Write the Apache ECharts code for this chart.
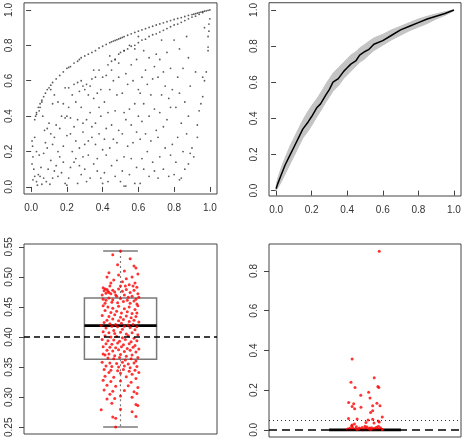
<!DOCTYPE html>
<html>
<head>
<meta charset="utf-8">
<script src="https://cdn.jsdelivr.net/npm/echarts@6.0.0/dist/echarts.min.js"></script>
<style>
  html, body { margin: 0; padding: 0; background: #fff; }
  #chart { width: 466px; height: 440px; }
</style>
</head>
<body>
<div id="chart"></div>
<script>
// ---- tick labels ----
const topTicks = [0, 0.2, 0.4, 0.6, 0.8, 1.0];
const leftBoxTicks = [0.25, 0.30, 0.35, 0.40, 0.45, 0.50, 0.55];
const rightBoxTicks = [0, 0.2, 0.4, 0.6, 0.8];

// ---- panel 1: scatter (upper envelope, second streak, cloud) ----
const envelopePts = [
  [0.02,0.38],[0.025,0.40],[0.03,0.42],[0.04,0.45],[0.05,0.47],[0.06,0.49],[0.07,0.51],[0.08,0.53],
  [0.09,0.55],[0.1,0.56],[0.11,0.575],[0.12,0.59],[0.14,0.61],[0.16,0.63],[0.18,0.65],[0.2,0.67],
  [0.21,0.675],[0.22,0.68],[0.24,0.70],[0.26,0.71],[0.27,0.72],[0.28,0.73],[0.3,0.74],[0.32,0.75],
  [0.34,0.76],[0.36,0.77],[0.38,0.785],[0.4,0.795],[0.42,0.805],[0.44,0.815],[0.45,0.82],[0.46,0.824],
  [0.47,0.828],[0.48,0.832],[0.49,0.836],[0.5,0.84],[0.51,0.845],[0.52,0.849],[0.54,0.857],[0.56,0.865],
  [0.58,0.873],[0.6,0.88],[0.62,0.887],[0.64,0.894],[0.66,0.901],[0.68,0.908],[0.7,0.915],[0.72,0.921],
  [0.74,0.927],[0.76,0.934],[0.78,0.94],[0.8,0.946],[0.82,0.952],[0.84,0.957],[0.86,0.963],[0.88,0.969],
  [0.9,0.974],[0.91,0.976],[0.92,0.979],[0.93,0.982],[0.94,0.985],[0.95,0.988],[0.96,0.99],[0.97,0.993],
  [0.98,0.995],[0.99,0.998],[1.0,1.0]
];
const streakPts = [
  [0.45,0.71],[0.47,0.72],[0.49,0.75],[0.52,0.77],[0.54,0.78],[0.56,0.795],[0.58,0.80],[0.6,0.815],
  [0.62,0.83],[0.64,0.835],[0.66,0.85],[0.68,0.86],[0.7,0.865],[0.72,0.875],[0.74,0.885],[0.76,0.895],
  [0.78,0.905],[0.8,0.915],[0.82,0.92],[0.84,0.93],[0.86,0.94],[0.88,0.95],[0.9,0.96],[0.92,0.965],
  [0.94,0.975],[0.96,0.985]
];
const cloudPts = [
  [0.005,0.13],[0.01,0.17],[0.008,0.23],[0.005,0.26],[0.015,0.10],[0.02,0.06],[0.03,0.03],[0.04,0.07],
  [0.05,0.06],[0.06,0.015],[0.085,0.03],[0.07,0.05],[0.03,0.20],[0.045,0.18],[0.03,0.41],[0.045,0.43],
  [0.05,0.45],[0.06,0.48],[0.075,0.32],[0.09,0.33],[0.1,0.36],[0.08,0.25],[0.09,0.22],[0.07,0.19],
  [0.02,0.28],[0.055,0.11],[0.095,0.10],[0.065,0.40],[0.01,0.04],[0.035,0.01],
  [0.105,0.015],[0.12,0.05],[0.13,0.09],[0.11,0.15],[0.14,0.12],[0.15,0.20],[0.12,0.24],[0.13,0.28],
  [0.16,0.33],[0.11,0.30],[0.14,0.35],[0.17,0.40],[0.12,0.47],[0.15,0.48],[0.18,0.47],[0.19,0.39],
  [0.17,0.08],[0.19,0.02],[0.2,0.01],[0.16,0.17],[0.18,0.23],[0.2,0.29],[0.13,0.52],[0.11,0.55],
  [0.19,0.56],[0.15,0.06],[0.18,0.14],[0.2,0.40],
  [0.21,0.05],[0.22,0.11],[0.24,0.14],[0.26,0.02],[0.28,0.07],[0.23,0.20],[0.25,0.26],[0.27,0.22],
  [0.22,0.30],[0.29,0.31],[0.24,0.34],[0.26,0.38],[0.28,0.45],[0.22,0.39],[0.25,0.48],[0.23,0.52],
  [0.27,0.54],[0.29,0.57],[0.26,0.59],[0.28,0.60],[0.21,0.56],[0.3,0.55],[0.24,0.58],[0.27,0.12],
  [0.29,0.17],[0.3,0.24],[0.25,0.16],[0.29,0.36],[0.3,0.10],[0.21,0.45],
  [0.31,0.03],[0.33,0.05],[0.35,0.13],[0.32,0.18],[0.37,0.16],[0.39,0.05],[0.36,0.24],[0.34,0.28],
  [0.38,0.30],[0.31,0.38],[0.33,0.42],[0.36,0.36],[0.39,0.40],[0.35,0.50],[0.32,0.52],[0.37,0.53],
  [0.39,0.55],[0.31,0.58],[0.34,0.61],[0.36,0.62],[0.38,0.66],[0.35,0.66],[0.4,0.62],[0.33,0.57],
  [0.37,0.09],[0.4,0.02],[0.32,0.26],[0.4,0.21],[0.38,0.45],[0.34,0.34],
  [0.41,0.08],[0.43,0.03],[0.45,0.12],[0.47,0.06],[0.42,0.18],[0.44,0.22],[0.48,0.15],[0.46,0.27],
  [0.49,0.32],[0.42,0.33],[0.45,0.35],[0.47,0.43],[0.43,0.42],[0.41,0.48],[0.44,0.55],[0.48,0.52],
  [0.46,0.60],[0.42,0.63],[0.49,0.62],[0.45,0.66],[0.43,0.69],[0.47,0.72],[0.49,0.70],[0.5,0.76],
  [0.44,0.74],[0.5,0.03],[0.48,0.25],[0.41,0.27],
  [0.52,0.005],[0.53,0.005],[0.51,0.09],[0.55,0.07],[0.58,0.02],[0.52,0.17],[0.56,0.16],[0.59,0.11],
  [0.54,0.23],[0.57,0.25],[0.51,0.30],[0.53,0.38],[0.56,0.35],[0.59,0.31],[0.52,0.42],[0.55,0.44],
  [0.58,0.47],[0.51,0.53],[0.54,0.58],[0.57,0.60],[0.6,0.55],[0.53,0.64],[0.56,0.69],[0.59,0.72],
  [0.52,0.77],[0.55,0.80],[0.58,0.78],[0.6,0.40],
  [0.61,0.02],[0.63,0.10],[0.66,0.06],[0.69,0.09],[0.62,0.16],[0.65,0.20],[0.68,0.14],[0.61,0.27],
  [0.64,0.30],[0.67,0.26],[0.7,0.32],[0.62,0.37],[0.66,0.40],[0.69,0.44],[0.63,0.47],[0.67,0.52],
  [0.61,0.53],[0.65,0.58],[0.68,0.61],[0.62,0.62],[0.64,0.66],[0.69,0.68],[0.66,0.73],[0.63,0.77],
  [0.7,0.75],[0.6,0.85],
  [0.71,0.05],[0.74,0.10],[0.77,0.06],[0.72,0.17],[0.75,0.22],[0.78,0.18],[0.71,0.28],[0.74,0.34],
  [0.79,0.24],[0.76,0.38],[0.72,0.42],[0.78,0.45],[0.73,0.52],[0.77,0.50],[0.75,0.57],[0.79,0.55],
  [0.71,0.62],[0.74,0.65],[0.78,0.67],[0.72,0.72],[0.76,0.76],[0.8,0.83],[0.73,0.83],[0.8,0.07],
  [0.83,0.04],[0.84,0.05],[0.86,0.10],[0.88,0.13],[0.81,0.14],[0.85,0.20],[0.89,0.19],[0.82,0.28],
  [0.87,0.30],[0.84,0.36],[0.88,0.40],[0.81,0.45],[0.86,0.48],[0.83,0.53],[0.89,0.57],[0.82,0.62],
  [0.85,0.67],[0.88,0.73],[0.83,0.78],[0.87,0.85],
  [0.9,0.22],[0.91,0.17],[0.93,0.28],[0.93,0.35],[0.94,0.43],[0.96,0.51],[0.95,0.47],[0.97,0.60],
  [0.96,0.62],[0.98,0.65],[0.99,0.77],[0.99,0.79],[0.99,0.85],[0.995,0.88],[0.995,0.92],[1.0,0.95],
  [0.92,0.65],[0.97,0.90]
];

// ---- panel 2: mean curve with grey envelope ----
const curveX = [0,0.01,0.03,0.05,0.08,0.1,0.13,0.15,0.18,0.2,0.23,0.25,0.28,0.3,0.32,0.33,0.35,0.38,
  0.4,0.42,0.45,0.47,0.5,0.52,0.55,0.6,0.65,0.7,0.75,0.8,0.85,0.9,0.95,1.0];
const curveMean = [0.01,0.04,0.09,0.14,0.20,0.24,0.30,0.34,0.38,0.41,0.46,0.48,0.53,0.56,0.60,0.605,0.62,0.66,
  0.68,0.70,0.72,0.75,0.77,0.78,0.81,0.83,0.86,0.89,0.91,0.93,0.95,0.965,0.98,1.0];
const curveLow = [0.0,0.015,0.05,0.09,0.15,0.19,0.25,0.29,0.33,0.36,0.41,0.44,0.49,0.52,0.55,0.56,0.58,0.62,
  0.64,0.66,0.69,0.71,0.73,0.75,0.775,0.805,0.835,0.86,0.885,0.905,0.925,0.95,0.97,0.995];
const curveHigh = [0.025,0.07,0.13,0.18,0.25,0.29,0.35,0.39,0.44,0.47,0.51,0.54,0.59,0.62,0.65,0.66,0.68,0.71,
  0.73,0.75,0.77,0.79,0.81,0.825,0.845,0.865,0.89,0.91,0.93,0.95,0.965,0.978,0.99,1.0];

// ---- panel 3: boxplot with jittered points ----
const leftStats = [1, 0.2505, 0.363, 0.419, 0.465, 0.543]; // x, min, q1, median, q3, max
const leftRef = 0.403;
const leftPts = [
  [1.0,0.543],[0.96,0.537],[1.05,0.53],[0.985,0.52],[1.07,0.518],[1.08,0.515],[0.94,0.507],[1.02,0.51],
  [0.99,0.503],[1.06,0.50],[0.93,0.50],[1.09,0.505],[1.03,0.497],[0.965,0.495],[1.01,0.492],[1.075,0.49],
  [0.95,0.49],[1.045,0.487],[1.0,0.485],[1.085,0.483],
  [0.91,0.482],[0.92,0.48],[0.93,0.479],[0.915,0.477],[0.935,0.476],[0.94,0.474],[0.925,0.473],[0.905,0.47],
  [0.95,0.472],[0.96,0.478],[0.97,0.475],[0.99,0.48],[1.01,0.476],[1.03,0.479],[1.05,0.474],[1.07,0.478],
  [1.09,0.472],[1.02,0.47],[0.98,0.468],[1.04,0.466],[1.06,0.468],[1.08,0.463],[0.94,0.465],[0.91,0.463],
  [0.925,0.461],[0.96,0.462],[1.0,0.464],[1.035,0.461],[1.07,0.46],[1.095,0.466],[0.955,0.458],[0.985,0.457],
  [1.015,0.459],[1.05,0.456],[0.92,0.456],[1.085,0.455],[0.975,0.47],[1.025,0.485],[0.945,0.485],[1.065,0.485],
  [0.91,0.452],[0.935,0.45],[0.96,0.448],[0.99,0.451],[1.02,0.447],[1.045,0.45],[1.075,0.446],[1.09,0.452],
  [0.92,0.444],[0.95,0.441],[0.98,0.443],[1.005,0.44],[1.035,0.442],[1.06,0.439],[1.085,0.44],[0.905,0.436],
  [0.94,0.434],[0.97,0.437],[1.0,0.433],[1.03,0.435],[1.055,0.432],[1.08,0.434],[0.93,0.428],[0.96,0.43],
  [0.99,0.427],[1.015,0.429],[1.045,0.426],[1.07,0.428],[1.095,0.425],[0.915,0.424],[0.945,0.422],[0.975,0.421],
  [1.005,0.423],[1.04,0.42],[1.065,0.421],[0.9,0.419],[0.955,0.418],[0.985,0.417],[1.02,0.418],[1.05,0.416],
  [1.085,0.417],[0.925,0.415],[1.01,0.413],[1.075,0.412],[0.965,0.411],
  [0.91,0.409],[0.94,0.407],[0.97,0.406],[1.0,0.408],[1.03,0.405],[1.06,0.407],[1.09,0.404],[0.92,0.402],
  [0.95,0.4],[0.98,0.401],[1.01,0.399],[1.04,0.402],[1.07,0.398],[0.905,0.396],[0.935,0.394],[0.965,0.395],
  [0.995,0.393],[1.025,0.396],[1.055,0.392],[1.085,0.394],[0.925,0.389],[0.955,0.388],[0.985,0.39],[1.015,0.387],
  [1.045,0.389],[1.075,0.386],[0.91,0.384],[0.945,0.383],[0.975,0.382],[1.005,0.384],[1.035,0.381],[1.065,0.383],
  [1.095,0.38],[0.93,0.378],[0.96,0.377],[0.99,0.379],[1.02,0.376],[1.05,0.378],[1.08,0.375],[0.94,0.372],
  [0.91,0.372],[0.92,0.37],[0.97,0.369],[1.0,0.371],[1.03,0.368],[1.06,0.37],[1.09,0.366],[0.935,0.365],
  [0.965,0.364],[0.995,0.366],[1.025,0.362],[1.055,0.364],[1.08,0.36],[0.905,0.358],[0.945,0.357],[0.98,0.356],
  [1.01,0.358],[1.04,0.355],[1.07,0.357],[0.925,0.352],[0.955,0.351],[0.99,0.35],[1.02,0.352],[1.05,0.349],
  [1.085,0.351],[0.915,0.346],[0.95,0.345],[0.985,0.344],[1.015,0.346],[1.045,0.343],[1.075,0.345],[0.94,0.341],
  [1.0,0.34],[1.06,0.338],[1.095,0.341],
  [0.92,0.335],[0.965,0.333],[1.03,0.334],[1.08,0.331],[0.91,0.328],[0.95,0.326],[1.0,0.327],[1.055,0.325],
  [0.93,0.32],[0.975,0.318],[1.04,0.319],[1.09,0.316],[0.915,0.312],[0.96,0.31],[1.02,0.311],[1.07,0.309],
  [0.945,0.305],[1.0,0.302],[1.085,0.306],[0.97,0.298],[1.06,0.3],[0.93,0.297],
  [0.955,0.29],[1.08,0.288],[1.09,0.286],[0.9,0.279],[1.0,0.28],[1.06,0.276],[0.96,0.267],[0.975,0.265],
  [1.08,0.268],[0.975,0.2505]
];

// ---- panel 4: degenerate boxplot with jittered points ----
const rightStats = [1, 0, 0, 0, 0, 0];
const rightDashed = 0;
const rightDotted = 0.05;
const rightPts = [
  [1.074,0.90],[0.933,0.357],[0.927,0.24],[0.948,0.213],[1.048,0.262],[1.067,0.218],[1.072,0.213],
  [1.019,0.19],[0.915,0.138],[0.941,0.131],[1.062,0.134],[0.978,0.174],[1.026,0.161],[0.933,0.117],
  [0.946,0.106],[0.979,0.114],[1.04,0.122],[1.078,0.122],[1.029,0.087],[1.04,0.096],[0.914,0.057],
  [0.959,0.055],[1.016,0.05],[1.09,0.065],[1.005,0.037],[1.04,0.054],[1.047,0.034],[1.069,0.044],
  [1.074,0.04],[0.945,0.03],[0.933,0.025],
  [0.91,0.004],[0.92,0.008],[0.925,0.002],[0.935,0.012],[0.94,0.003],[0.95,0.006],[0.955,0.015],
  [0.96,0.002],[0.97,0.009],[0.975,0.004],[0.985,0.012],[0.99,0.001],[1.0,0.007],[1.005,0.003],
  [1.01,0.014],[1.02,0.005],[1.025,0.009],[1.03,0.002],[1.035,0.011],[1.045,0.004],[1.05,0.008],
  [1.055,0.002],[1.06,0.013],[1.065,0.005],[1.075,0.003],[1.08,0.01],[1.085,0.004],[1.09,0.002],
  [0.93,0.02],[1.0,0.018],[1.07,0.018]
];

const FONT = 'Liberation Sans';
const AX = '#444';

function yAxisFor(grid, min, max, ticks, digits) {
  return {
    type: 'value', gridIndex: grid, position: 'left', min: min, max: max,
    axisLine: { show: false },
    splitLine: { show: false },
    axisTick: { show: true, length: 5, lineStyle: { color: AX }, customValues: ticks },
    axisLabel: {
      rotate: 90, margin: 10, fontSize: 10, color: '#333', fontFamily: FONT,
      customValues: ticks, formatter: function (v) { return v.toFixed(digits); }
    }
  };
}
function xAxisFor(grid, min, max, ticks) {
  const ax = {
    type: 'value', gridIndex: grid, position: 'bottom', min: min, max: max,
    axisLine: { show: false },
    splitLine: { show: false },
    axisTick: { show: false },
    axisLabel: { show: false }
  };
  if (ticks) {
    ax.axisTick = { show: true, length: 5, lineStyle: { color: AX }, customValues: ticks };
    ax.axisLabel = {
      margin: 9, fontSize: 10, color: '#333', fontFamily: FONT,
      customValues: ticks, formatter: function (v) { return v.toFixed(1); }
    };
  }
  return ax;
}

// boxplot drawn R-style: dashed whiskers, half-width staples, thick median
function boxRender(params, api) {
  const x = api.value(0), lo = api.value(1), q1 = api.value(2),
        med = api.value(3), q3 = api.value(4), hi = api.value(5);
  const hw = 0.187, cw = 0.09;
  const p = function (a, b) { return api.coord([a, b]); };
  const grey = '#7a7a7a';
  const a = p(x - hw, q3), b = p(x + hw, q1);
  return {
    type: 'group',
    children: [
      { type: 'line', shape: { x1: p(x, q3)[0], y1: p(x, q3)[1], x2: p(x, hi)[0], y2: p(x, hi)[1] },
        style: { stroke: grey, lineWidth: 1.2, lineDash: [2, 3] } },
      { type: 'line', shape: { x1: p(x, q1)[0], y1: p(x, q1)[1], x2: p(x, lo)[0], y2: p(x, lo)[1] },
        style: { stroke: grey, lineWidth: 1.2, lineDash: [2, 3] } },
      { type: 'line', shape: { x1: p(x - cw, hi)[0], y1: p(x - cw, hi)[1], x2: p(x + cw, hi)[0], y2: p(x + cw, hi)[1] },
        style: { stroke: grey, lineWidth: 1.5 } },
      { type: 'line', shape: { x1: p(x - cw, lo)[0], y1: p(x - cw, lo)[1], x2: p(x + cw, lo)[0], y2: p(x + cw, lo)[1] },
        style: { stroke: grey, lineWidth: 1.5 } },
      { type: 'rect', shape: { x: a[0], y: a[1], width: b[0] - a[0], height: b[1] - a[1] },
        style: { stroke: grey, fill: 'none', lineWidth: 1.5 } },
      { type: 'line', shape: { x1: p(x - hw, med)[0], y1: p(x - hw, med)[1], x2: p(x + hw, med)[0], y2: p(x + hw, med)[1] },
        style: { stroke: '#000', lineWidth: 2.6 } }
    ]
  };
}

// grey envelope polygon built from the low/high arrays through the axis scales
function bandRender(params, api) {
  const pts = [];
  for (let i = 0; i < curveX.length; i++) pts.push(api.coord([curveX[i], curveHigh[i]]));
  for (let i = curveX.length - 1; i >= 0; i--) pts.push(api.coord([curveX[i], curveLow[i]]));
  return {
    type: 'polygon',
    shape: { points: pts },
    style: { fill: '#c4c4c4', stroke: '#c4c4c4', lineWidth: 1 }
  };
}

function refLine(value, dash, width, color) {
  return {
    silent: true, symbol: ['none', 'none'], label: { show: false },
    lineStyle: { color: color, type: dash, width: width },
    emphasis: { disabled: true },
    data: [{ yAxis: value }]
  };
}

const chart = echarts.init(document.getElementById('chart'), null, { renderer: 'canvas' });

const gridStyle = { show: true, borderColor: '#444', borderWidth: 1, backgroundColor: 'transparent' };

const option = {
  animation: false,
  backgroundColor: '#fff',
  grid: [
    Object.assign({ left: 24, top: 2, width: 193, height: 192 }, gridStyle),
    Object.assign({ left: 269, top: 2, width: 192, height: 194 }, gridStyle),
    Object.assign({ left: 24, top: 244, width: 193, height: 193 }, gridStyle),
    Object.assign({ left: 269, top: 244, width: 192, height: 193 }, gridStyle)
  ],
  xAxis: [
    xAxisFor(0, -0.04, 1.04, topTicks),
    xAxisFor(1, -0.04, 1.04, topTicks),
    xAxisFor(2, 0.5, 1.5, null),
    xAxisFor(3, 0.5, 1.5, null)
  ],
  yAxis: [
    yAxisFor(0, -0.04, 1.04, topTicks, 1),
    yAxisFor(1, -0.03, 1.04, topTicks, 1),
    yAxisFor(2, 0.2388, 0.5547, leftBoxTicks, 2),
    yAxisFor(3, -0.036, 0.936, rightBoxTicks, 1)
  ],
  series: [
    { type: 'scatter', xAxisIndex: 0, yAxisIndex: 0, data: cloudPts, symbolSize: 1.8,
      itemStyle: { color: '#333' }, silent: true },
    { type: 'scatter', xAxisIndex: 0, yAxisIndex: 0, data: envelopePts, symbolSize: 1.8,
      itemStyle: { color: '#333' }, silent: true },
    { type: 'scatter', xAxisIndex: 0, yAxisIndex: 0, data: streakPts, symbolSize: 1.8,
      itemStyle: { color: '#333' }, silent: true },

    { type: 'custom', xAxisIndex: 1, yAxisIndex: 1, renderItem: bandRender, data: [[0.5, 0.5]],
      silent: true, z: 1 },
    { type: 'line', xAxisIndex: 1, yAxisIndex: 1, showSymbol: false, silent: true, z: 3,
      data: curveX.map(function (x, i) { return [x, curveMean[i]]; }),
      lineStyle: { width: 1.5, color: '#000' } },

    { type: 'custom', xAxisIndex: 2, yAxisIndex: 2, renderItem: boxRender, data: [leftStats],
      encode: { x: 0, y: [1, 2, 3, 4, 5] }, silent: true, z: 2 },
    { type: 'scatter', xAxisIndex: 2, yAxisIndex: 2, data: leftPts, symbolSize: 3, z: 3,
      itemStyle: { color: '#ff0000' }, silent: true,
      markLine: refLine(leftRef, [6, 4], 1.5, '#000') },

    { type: 'custom', xAxisIndex: 3, yAxisIndex: 3, renderItem: boxRender, data: [rightStats],
      encode: { x: 0, y: [1, 2, 3, 4, 5] }, silent: true, z: 2,
      markLine: refLine(rightDotted, [1, 3], 1.2, '#333') },
    { type: 'scatter', xAxisIndex: 3, yAxisIndex: 3, data: rightPts, symbolSize: 3, z: 3,
      itemStyle: { color: '#ff0000' }, silent: true,
      markLine: refLine(rightDashed, [8, 5], 1.5, '#000') }
  ]
};

chart.setOption(option);
</script>
</body>
</html>
